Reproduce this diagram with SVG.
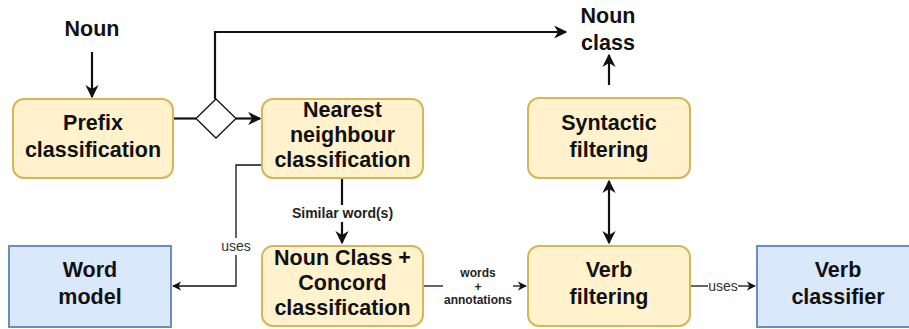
<svg xmlns="http://www.w3.org/2000/svg" width="909" height="329" viewBox="0 0 909 329">
<defs>
<style>
.y{fill:#fff2cc;stroke:#d6b656;stroke-width:2}
.b{fill:#dae8fc;stroke:#6c8ebf;stroke-width:2}
.t{font-family:"Liberation Sans",Arial,sans-serif;font-weight:bold;font-size:21.5px;fill:#111;text-anchor:middle}
.c{fill:none;stroke:#111}
.w2{stroke-width:2.2}
.w1{stroke-width:1.3}
.lb{font-family:"Liberation Sans",Arial,sans-serif;font-size:14px;fill:#333;text-anchor:middle}
.lbb{font-family:"Liberation Sans",Arial,sans-serif;font-size:14px;font-weight:bold;fill:#222;text-anchor:middle}
.sm{font-family:"Liberation Sans",Arial,sans-serif;font-size:12px;font-weight:bold;fill:#222;text-anchor:middle}
</style>
<marker id="a" viewBox="0 0 10 10" refX="9" refY="5" markerWidth="6" markerHeight="6" orient="auto-start-reverse" markerUnits="strokeWidth">
<path d="M0,0 L10,5 L0,10 L3,5 Z" fill="#111"/>
</marker>
<marker id="a1" viewBox="0 0 10 10" refX="9" refY="5" markerWidth="7" markerHeight="7" orient="auto" markerUnits="strokeWidth">
<path d="M0,0 L10,5 L0,10 L3,5 Z" fill="#111"/>
</marker>
</defs>
<rect width="909" height="329" fill="#fff"/>

<g id="connectors">
<path class="c w2" d="M92,52 V97" marker-end="url(#a)"/>
<path class="c w2" d="M173,118.5 H196"/>
<path class="c w2" d="M236,118.5 H260" marker-end="url(#a)"/>
<path class="c w2" d="M215,99 V32 H566" marker-end="url(#a)"/>
<path class="c w2" d="M609,85 V55" marker-end="url(#a)"/>
<path class="c w2" d="M609,181 V243" marker-start="url(#a)" marker-end="url(#a)"/>
<path class="c w2" d="M342,178 V243" marker-end="url(#a)"/>
<rect x="286" y="205" width="113" height="17" fill="#fff"/>
<text class="lbb" x="342.5" y="218">Similar word(s)</text>
<path class="c w1" d="M262,165 H236 V286 H173" marker-end="url(#a1)"/>
<rect x="219" y="238" width="34" height="17" fill="#fff"/>
<text class="lb" x="236" y="251">uses</text>
<path class="c w1" d="M423,286 H443"/>
<path class="c w1" d="M513,286 H526" marker-end="url(#a1)"/>
<text class="sm" x="478" y="277">words</text>
<text class="sm" x="478" y="291">+</text>
<text class="sm" x="478" y="304">annotations</text>
<path class="c w1" d="M690,286 H708"/>
<path class="c w1" d="M738,286 H755" marker-end="url(#a1)"/>
<text class="lb" x="723" y="291">uses</text>
</g>

<g id="noun">
<text class="t" x="92" y="36">Noun</text>
</g>
<g id="nounclass">
<text class="t" x="608" y="23">Noun</text>
<text class="t" x="608" y="50">class</text>
</g>
<g id="prefix">
<rect class="y" x="13" y="99" width="160" height="79" rx="11"/>
<text class="t" x="93" y="130">Prefix</text>
<text class="t" x="93" y="157">classification</text>
</g>
<g id="decision">
<path d="M216,99 L236,118.5 L216,138 L196,118.5 Z" fill="#fff" stroke="#111" stroke-width="1.3"/>
</g>
<g id="nearest">
<rect class="y" x="262" y="99" width="161" height="79" rx="11"/>
<text class="t" x="342.5" y="117">Nearest</text>
<text class="t" x="342.5" y="142">neighbour</text>
<text class="t" x="342.5" y="167">classification</text>
</g>
<g id="syntactic">
<rect class="y" x="528" y="98" width="162" height="80" rx="11"/>
<text class="t" x="609" y="130">Syntactic</text>
<text class="t" x="609" y="157">filtering</text>
</g>
<g id="wordmodel">
<rect class="b" x="9" y="246" width="162" height="81"/>
<text class="t" x="90" y="277">Word</text>
<text class="t" x="90" y="304">model</text>
</g>
<g id="nounclassconcord">
<rect class="y" x="262" y="246" width="161" height="80" rx="11"/>
<text class="t" x="342.5" y="265">Noun Class +</text>
<text class="t" x="342.5" y="290">Concord</text>
<text class="t" x="342.5" y="315">classification</text>
</g>
<g id="verbfiltering">
<rect class="y" x="528" y="246" width="162" height="80" rx="11"/>
<text class="t" x="609" y="277">Verb</text>
<text class="t" x="609" y="304">filtering</text>
</g>
<g id="verbclassifier">
<rect class="b" x="757" y="246" width="162" height="81"/>
<text class="t" x="838" y="277">Verb</text>
<text class="t" x="838" y="304">classifier</text>
</g>
</svg>
